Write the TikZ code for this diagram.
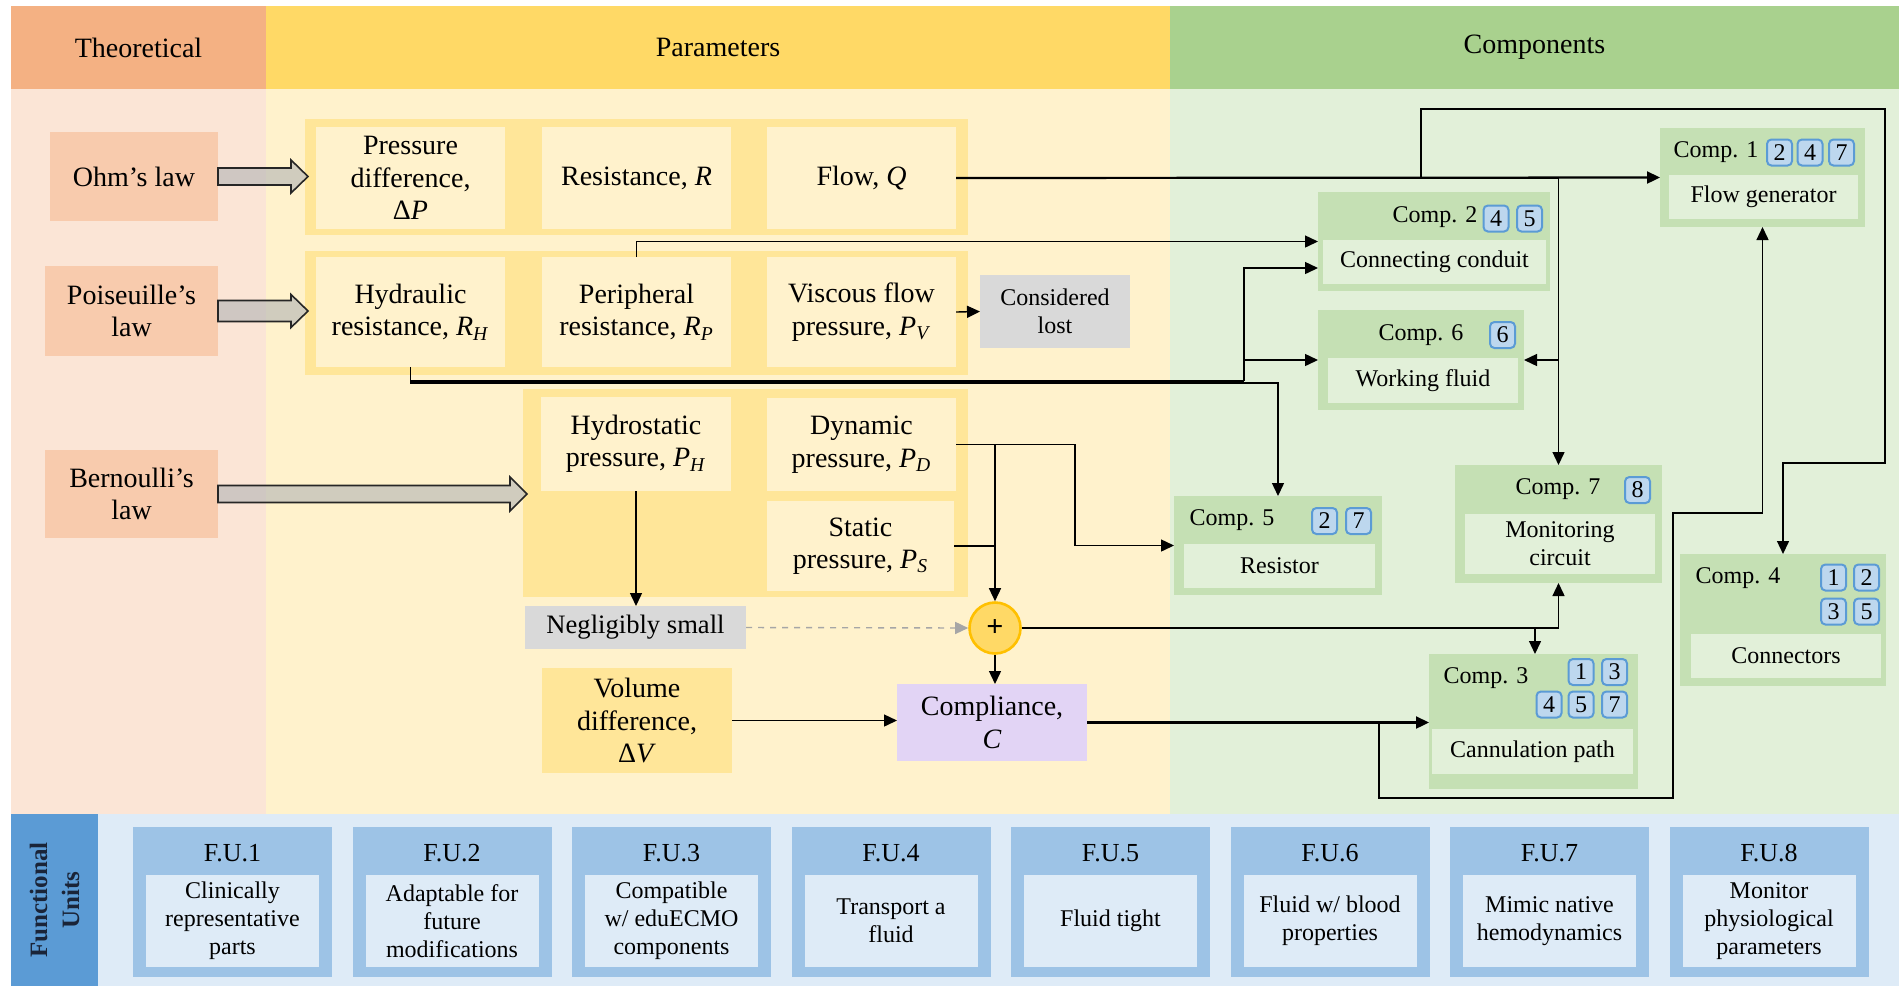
\documentclass[tikz,border=0pt]{standalone}
\usepackage{fontspec}
\setmainfont{Liberation Serif}
\usetikzlibrary{calc,arrows.meta}

\definecolor{thHead}{HTML}{F4B183}
\definecolor{thBody}{HTML}{FBE5D6}
\definecolor{lawFill}{HTML}{F8CBAD}
\definecolor{parHead}{HTML}{FFD966}
\definecolor{parBody}{HTML}{FFF2CC}
\definecolor{parCont}{HTML}{FFE699}
\definecolor{coHead}{HTML}{A9D18E}
\definecolor{coBody}{HTML}{E2F0D9}
\definecolor{compMid}{HTML}{C5E0B4}
\definecolor{grayFill}{HTML}{D9D9D9}
\definecolor{lavender}{HTML}{E2D4F5}
\definecolor{plusLine}{HTML}{FFC000}
\definecolor{badgeFill}{HTML}{BDD7EE}
\definecolor{badgeLine}{HTML}{5B9BD5}
\definecolor{fuStrip}{HTML}{5B9BD5}
\definecolor{fuBand}{HTML}{DEEBF7}
\definecolor{fuMid}{HTML}{9DC3E6}
\definecolor{fuText}{HTML}{1A2438}
\definecolor{dashGray}{HTML}{A6A6A6}

\newcommand{\pfont}{\fontsize{14}{16.2}\selectfont}
\newcommand{\nfont}{\fontsize{13.3}{15.4}\selectfont}
\newcommand{\cfont}{\fontsize{12}{14}\selectfont}
\newcommand{\tfont}{\fontsize{13}{15}\selectfont}
\newcommand{\sym}[2]{\textit{#1}\textsubscript{\textit{#2}}}

% \rect[style]{name}{x1}{y1}{x2}{y2}{text}: a box given by two corners
\newcommand{\rect}[7][]{%
  \node[#1, minimum width={(#5-#3)*0.5pt}, minimum height={(#6-#4)*0.5pt}]
    (#2) at ({(#3+#5)/2},{(#4+#6)/2}) {#7};}

\tikzset{
  flat/.style={rectangle, inner sep=0pt, outer sep=0pt, align=center, draw=none},
  head/.style={flat, font=\pfont},
  law/.style={flat, fill=lawFill, font=\pfont},
  pcont/.style={flat, fill=parCont},
  pbox/.style={flat, fill=parBody, font=\pfont},
  gbox/.style={flat, fill=grayFill},
  couter/.style={flat, fill=compMid},
  cinner/.style={flat, fill=coBody, font=\cfont},
  clabel/.style={font=\cfont, inner sep=0pt},
  badge/.style={draw=badgeLine, fill=badgeFill, line width=1pt, rounded corners=2.2pt,
    minimum width=12.5pt, minimum height=13pt, inner sep=0pt, font=\cfont},
  fuouter/.style={flat, fill=fuMid},
  fuinner/.style={flat, fill=fuBand, font=\cfont},
  futitle/.style={font=\tfont, inner sep=0pt},
  line/.style={draw=black, line width=0.7pt},
  conn/.style={line, -{Triangle[length=6.5pt,width=6pt]}},
  heavy/.style={line width=1.1pt},
  blockarr/.style={draw=black!85, line width=0.8pt, fill=black!28, fill opacity=0.65},
}

\begin{document}
\begin{tikzpicture}[x=0.5pt,y=-0.5pt]
\useasboundingbox (0,0) rectangle (1899,986);

% column headers and bodies
\rect[head, fill=thHead]{hth}{11}{6}{266}{89}{Theoretical}
\rect[head, fill=parHead]{hpar}{266}{6}{1170}{89}{Parameters}
\rect[head, fill=coHead]{hco}{1170}{6}{1899}{89}{Components}
\rect[flat, fill=thBody]{bth}{11}{89}{266}{814}{}
\rect[flat, fill=parBody]{bpar}{266}{89}{1170}{814}{}
\rect[flat, fill=coBody]{bco}{1170}{89}{1899}{814}{}

% functional units band
\rect[flat, fill=fuStrip]{fustrip}{11}{814}{98}{986}{}
\rect[flat, fill=fuBand]{fuband}{98}{814}{1899}{986}{}
\node[rotate=90, align=center, text=fuText, font=\fontsize{12.5}{16}\selectfont\bfseries, inner sep=0pt]
  (fulabel) at (fustrip.center) {Functional\\Units};

\foreach \i/\t in {1/{Clinically\\representative\\parts},
                   2/{Adaptable for\\future\\modifications},
                   3/{Compatible\\w/ eduECMO\\components},
                   4/{Transport a\\fluid},
                   5/{Fluid tight},
                   6/{Fluid w/ blood\\properties},
                   7/{Mimic native\\hemodynamics},
                   8/{Monitor\\physiological\\parameters}} {
  \pgfmathsetmacro{\xl}{133+(\i-1)*219.5}
  \pgfmathsetmacro{\xr}{\xl+199}
  \pgfmathsetmacro{\xil}{\xl+13}
  \pgfmathsetmacro{\xir}{\xl+186}
  \rect[fuouter]{fu\i}{\xl}{827}{\xr}{977}{}
  \rect[fuinner]{fuin\i}{\xil}{875}{\xir}{967}{\t}
  \node[futitle] (fut\i) at (\xl+99.5,853) {F.U.\i};
}

% theoretical laws
\rect[law]{ohm}{50}{132}{218}{221}{Ohm’s law}
\rect[law]{pois}{45}{266}{218}{356}{Poiseuille’s\\law}
\rect[law]{bern}{45}{450}{218}{538}{Bernoulli’s\\law}

% parameter groups
\rect[pcont]{grpohm}{305}{119}{968}{235}{}
\rect[pcont]{grppois}{305}{251}{968}{375}{}
\rect[pcont]{grpbern}{523}{389}{968}{597}{}

\rect[pbox]{pd}{316}{127}{505}{229}{Pressure\\difference,\\Δ\textit{P}}
\rect[pbox]{res}{542}{127}{731}{229}{Resistance, \textit{R}}
\rect[pbox]{flow}{767}{127}{956}{229}{Flow, \textit{Q}}

\rect[pbox]{hyd}{316}{257}{505}{367}{Hydraulic\\resistance, \sym{R}{H}}
\rect[pbox]{per}{542}{257}{731}{367}{Peripheral\\resistance, \sym{R}{P}}
\rect[pbox]{visc}{767}{257}{956}{367}{Viscous flow\\pressure, \sym{P}{V}}
\rect[gbox, font=\cfont]{lost}{980}{275}{1130}{348}{Considered\\lost}

\rect[pbox]{hydro}{541}{397}{731}{491}{Hydrostatic\\pressure, \sym{P}{H}}
\rect[pbox]{dyn}{767}{398}{956}{491}{Dynamic\\pressure, \sym{P}{D}}
\rect[pbox]{stat}{767}{501}{954}{591}{Static\\pressure, \sym{P}{S}}
\rect[gbox, font=\nfont]{negl}{525}{606}{746}{649}{Negligibly small}
\rect[pbox, fill=parCont]{vol}{542}{668}{732}{773}{Volume\\difference,\\Δ\textit{V}}
\rect[pbox, fill=lavender]{cmp}{897}{684}{1087}{761}{Compliance,\\\textit{C}}
\node[circle, fill=parHead, draw=plusLine, line width=1.3pt, minimum size=25.5pt,
      inner sep=0pt, font=\fontsize{15}{15}\selectfont\bfseries] (plus) at (995,628) {+};

% components
\rect[couter]{comp1}{1660}{128}{1865}{227}{}
\rect[cinner]{comp1in}{1669}{175}{1858}{219}{Flow generator}
\node[clabel] (c1lab) at (1716,152) {Comp. 1};
\node[badge] (c1b2) at (1779.5,152.5) {2};
\node[badge] (c1b4) at (1810,152.5) {4};
\node[badge] (c1b7) at (1841.5,152.5) {7};

\rect[couter]{comp2}{1318}{192}{1550}{291}{}
\rect[cinner]{comp2in}{1323}{240}{1546}{284}{Connecting conduit}
\node[clabel] (c2lab) at (1435,217) {Comp. 2};
\node[badge] (c2b4) at (1496,218.5) {4};
\node[badge] (c2b5) at (1529.5,218.5) {5};

\rect[couter]{comp6}{1318}{310}{1524}{410}{}
\rect[cinner]{comp6in}{1328}{358}{1518}{403}{Working fluid}
\node[clabel] (c6lab) at (1421,335) {Comp. 6};
\node[badge] (c6b6) at (1502.5,335) {6};

\rect[couter]{comp5}{1174}{496}{1382}{595}{}
\rect[cinner]{comp5in}{1184}{544}{1375}{588}{Resistor}
\node[clabel] (c5lab) at (1232,520) {Comp. 5};
\node[badge] (c5b2) at (1324.5,521) {2};
\node[badge] (c5b7) at (1358.5,521) {7};

\rect[couter]{comp7}{1455}{465}{1662}{583}{}
\rect[cinner]{comp7in}{1465}{514}{1655}{574}{Monitoring\\circuit}
\node[clabel] (c7lab) at (1558,489) {Comp. 7};
\node[badge] (c7b8) at (1637.5,490) {8};

\rect[couter]{comp3}{1429}{654}{1638}{789}{}
\rect[cinner]{comp3in}{1432}{729}{1633}{774}{Cannulation path}
\node[clabel] (c3lab) at (1486,678) {Comp. 3};
\node[badge] (c3b1) at (1581,672) {1};
\node[badge] (c3b3) at (1614.5,672) {3};
\node[badge] (c3b4) at (1549,704.5) {4};
\node[badge] (c3b5) at (1581,704.5) {5};
\node[badge] (c3b7) at (1614.5,704.5) {7};

\rect[couter]{comp4}{1680}{554}{1886}{686}{}
\rect[cinner]{comp4in}{1691}{634}{1881}{678}{Connectors}
\node[clabel] (c4lab) at (1738,578) {Comp. 4};
\node[badge] (c4b1) at (1833.5,577.5) {1};
\node[badge] (c4b2) at (1866.5,577.5) {2};
\node[badge] (c4b3) at (1833.5,611.5) {3};
\node[badge] (c4b5) at (1866.5,611.5) {5};

% block arrows from the laws to their parameters
\draw[blockarr] ($(ohm.east)+(0,-8.5)$) -- ++(73,0) -- ++(0,-8) -- ++(17,16.5)
  -- ++(-17,16.5) -- ++(0,-8) -- ++(-73,0) -- cycle;
\draw[blockarr] ($(pois.east)+(0,-10.5)$) -- ++(73,0) -- ++(0,-6) -- ++(17,16.5)
  -- ++(-17,16.5) -- ++(0,-6) -- ++(-73,0) -- cycle;
\draw[blockarr] ($(bern.east)+(0,-8.5)$) -- ++(292,0) -- ++(0,-8.5) -- ++(17,17)
  -- ++(-17,17) -- ++(0,-8.5) -- ++(-292,0) -- cycle;

% Ohm's law connectors
\draw[conn, heavy] (flow.east) -- (comp1.west);
\draw[conn] (flow.east) -| (1421,109) -| (1885,463) -| (comp4.north);
\draw[conn] (flow.east) -| (comp7.north);
\draw[conn] (comp7.north |- comp6.east) -- (comp6.east);

% Poiseuille's law connectors
\draw[conn] (per.north) |- (comp2.west);
\draw[conn] (visc.east) -- (lost.west);
\coordinate (hj) at (1244,381);
\draw[line] (hyd.south) |- (hj);
\draw[conn] (hj) |- ($(comp2.west)+(0,26.5)$);
\draw[conn] (hj |- comp6.west) -- (comp6.west);
\draw[conn] (hyd.south) |- (1278,383) -- (comp5.north);

% Bernoulli's law connectors
\draw[conn] (hydro.south) -- (hydro.south |- negl.north);
\draw[conn, draw=dashGray, dashed] (negl.east) -- (plus.west);
\draw[conn] (dyn.east) -| ($(comp5.west)+(-99,0)$) -- (comp5.west);
\draw[conn] (dyn.east) -| (plus.north);
\draw[line] (stat.east) -- (stat.east -| plus.north);
\draw[conn] (plus.south) -- (plus.south |- cmp.north);
\draw[conn] (vol.east) -- (vol.east -| cmp.west);
\draw[conn] (plus.east) -| (comp7.south);
\coordinate (pj) at (1535,628);
\draw[conn] (pj) -- (pj |- comp3.north);
\draw[conn, heavy] (cmp.east) -- (cmp.east -| comp3.west);
\draw[conn] (cmp.east) -| (1379,798) -| (1673,513) -| (comp1.south);
\end{tikzpicture}
\end{document}
